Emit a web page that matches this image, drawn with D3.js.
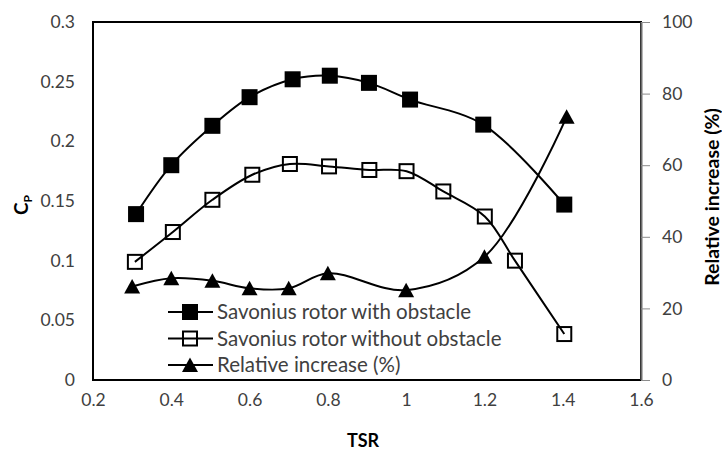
<!DOCTYPE html>
<html>
<head>
<meta charset="utf-8">
<script src="https://cdn.jsdelivr.net/npm/d3@7/dist/d3.min.js"></script>
<style>
  html, body { margin: 0; padding: 0; background: #fff; }
  svg { display: block; font-family: Lato, "Open Sans", sans-serif; }
</style>
</head>
<body>
<svg id="chart" width="722" height="450"></svg>
<script>
// Power coefficient of the Savonius rotor against tip speed ratio
const tsrWith    = [0.31, 0.40, 0.505, 0.60, 0.71, 0.805, 0.905, 1.01, 1.197, 1.404];
const cpWith     = [0.139, 0.180, 0.213, 0.237, 0.252, 0.255, 0.249, 0.235, 0.214, 0.147];

const tsrWithout = [0.307, 0.404, 0.505, 0.607, 0.703, 0.803, 0.906, 1.001, 1.095, 1.201, 1.278, 1.404];
const cpWithout  = [0.099, 0.124, 0.151, 0.172, 0.181, 0.179, 0.176, 0.175, 0.158, 0.137, 0.100, 0.0385];

const tsrRel      = [0.30, 0.40, 0.505, 0.60, 0.70, 0.80, 1.00, 1.20, 1.41];
const relIncrease = [26.1, 28.4, 27.7, 25.6, 25.6, 29.8, 25.1, 34.4, 73.5];

const tsrTicks = [0.2, 0.4, 0.6, 0.8, 1, 1.2, 1.4, 1.6];
const cpTicks  = [0, 0.05, 0.1, 0.15, 0.2, 0.25, 0.3];
const relTicks = [0, 20, 40, 60, 80, 100];

const seriesNames = ["Savonius rotor with obstacle", "Savonius rotor without obstacle", "Relative increase (%)"];

const svg = d3.select("#chart");
const plotL = 93, plotR = 641, plotT = 22, plotB = 380;

const x = d3.scaleLinear().domain([0.2, 1.6]).range([plotL, plotR]);
const yCp = d3.scaleLinear().domain([0, 0.3]).range([plotB, plotT]);
const yRel = d3.scaleLinear().domain([0, 100]).range([plotB, plotT]);

const labelColor = "#404040";

// plot area frame
svg.append("rect")
  .attr("x", plotL).attr("y", plotT)
  .attr("width", plotR - plotL).attr("height", plotB - plotT)
  .attr("fill", "none").attr("stroke", "#000").attr("stroke-width", 2);

// left axis labels (no tick marks)
const axL = svg.append("g").attr("transform", `translate(${plotL},0)`)
  .call(d3.axisLeft(yCp).tickValues(cpTicks).tickSize(0).tickPadding(18).tickFormat(d => String(d)));
axL.select(".domain").remove();
axL.selectAll("text").attr("fill", labelColor).style("font-size", "17.5px").style("font-family", "Lato, sans-serif");

// bottom axis labels
const axB = svg.append("g").attr("transform", `translate(0,${plotB})`)
  .call(d3.axisBottom(x).tickValues(tsrTicks).tickSize(0).tickPadding(14).tickFormat(d => String(d)));
axB.select(".domain").remove();
axB.selectAll("text").attr("fill", labelColor).style("font-size", "17.5px").style("font-family", "Lato, sans-serif");

// right secondary axis with outward ticks
const axR = svg.append("g").attr("transform", `translate(${plotR},0)`)
  .call(d3.axisRight(yRel).tickValues(relTicks).tickSize(9).tickPadding(12).tickFormat(d => String(d)));
axR.select(".domain").attr("stroke", "#6e6e6e").attr("stroke-width", 2).attr("d", `M0.5,${plotT}V${plotB}`);
axR.selectAll("line").attr("stroke", "#8c8c8c").attr("stroke-width", 1);
axR.selectAll("text").attr("fill", labelColor).style("font-size", "17.5px").style("font-family", "Lato, sans-serif");

// axis titles
svg.append("text")
  .attr("x", (plotL + plotR) / 2 - 4).attr("y", 447)
  .attr("text-anchor", "middle").attr("font-weight", "bold").attr("font-size", 18)
  .attr("fill", "#000").text("TSR");

const cpTitle = svg.append("text")
  .attr("transform", `translate(28,205) rotate(-90)`)
  .attr("text-anchor", "middle").attr("font-weight", "bold").attr("font-size", 19).attr("fill", "#000");
cpTitle.append("tspan").text("C");
cpTitle.append("tspan").attr("font-size", 12).attr("dy", 4).text("P");

svg.append("text")
  .attr("transform", `translate(719,197) rotate(-90)`)
  .attr("text-anchor", "middle").attr("font-weight", "bold").attr("font-size", 19.5)
  .attr("fill", "#000").text("Relative increase (%)");

// smoothed series lines
const curve = d3.curveCatmullRom.alpha(0.5);
const lineOf = (xs, ys, yScale) => d3.line().curve(curve)(xs.map((v, i) => [x(v), yScale(ys[i])]));

svg.append("path").attr("d", lineOf(tsrWith, cpWith, yCp))
  .attr("fill", "none").attr("stroke", "#000").attr("stroke-width", 2);
svg.append("path").attr("d", lineOf(tsrWithout, cpWithout, yCp))
  .attr("fill", "none").attr("stroke", "#000").attr("stroke-width", 2);
svg.append("path").attr("d", lineOf(tsrRel, relIncrease, yRel))
  .attr("fill", "none").attr("stroke", "#000").attr("stroke-width", 2);

// markers
const sq = 16;
const triPath = "M0,-7.5L8,7L-8,7Z";

function filledSquare(g, cx, cy) {
  g.append("rect").attr("x", cx - sq / 2).attr("y", cy - sq / 2).attr("width", sq).attr("height", sq).attr("fill", "#000");
}
function openSquare(g, cx, cy) {
  g.append("rect").attr("x", cx - (sq - 2) / 2).attr("y", cy - (sq - 2) / 2).attr("width", sq - 2).attr("height", sq - 2)
    .attr("fill", "none").attr("stroke", "#000").attr("stroke-width", 2);
}
function triangle(g, cx, cy) {
  g.append("path").attr("d", triPath).attr("transform", `translate(${cx},${cy})`).attr("fill", "#000");
}

const mk = svg.append("g");
tsrWith.forEach((v, i) => filledSquare(mk, x(v), yCp(cpWith[i])));
tsrWithout.forEach((v, i) => openSquare(mk, x(v), yCp(cpWithout[i])));
tsrRel.forEach((v, i) => triangle(mk, x(v), yRel(relIncrease[i])));

// legend
const legend = svg.append("g");
const markerFns = [filledSquare, openSquare, triangle];
seriesNames.forEach((name, i) => {
  const ly = 312 + i * 26.5;
  legend.append("line").attr("x1", 168).attr("x2", 213).attr("y1", ly).attr("y2", ly)
    .attr("stroke", "#000").attr("stroke-width", 2);
  markerFns[i](legend, 190, ly);
  legend.append("text").attr("x", 217).attr("y", ly).attr("dy", "0.36em")
    .attr("font-size", 20.5).attr("fill", labelColor).text(name);
});
</script>
</body>
</html>
